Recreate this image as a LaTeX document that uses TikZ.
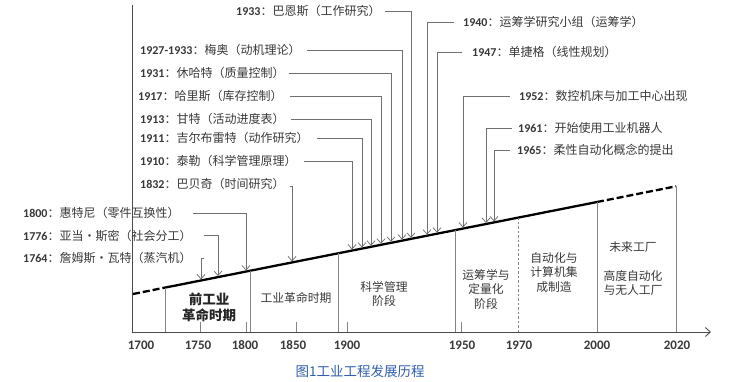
\documentclass[tikz,border=0pt]{standalone}
\usepackage{fontspec}
\setmainfont{Noto Sans CJK SC}
\newfontfamily\numfont{Carlito}
\usetikzlibrary{arrows.meta}
\definecolor{txt}{HTML}{383838}
\definecolor{ln}{HTML}{707070}
\definecolor{axc}{HTML}{4A4A4A}
\definecolor{capc}{RGB}{46,94,172}
\newcommand\yr[1]{{\numfont\bfseries #1}}
\newcommand\tpt[2]{\coordinate (#1) at ({#2},{288-0.19816*(#2-163)});}
\begin{document}
\begin{tikzpicture}[x=1pt,y=-1pt,
  evt/.style={font=\fontsize{12}{13}\selectfont, text=txt, inner sep=0pt},
  evl/.style={evt, anchor=west},
  lead/.style={draw=ln, line width=0.75pt, shorten >=1pt,
    -{Straight Barb[length=4.5pt,width=8pt,line width=0.75pt]}},
  stagetxt/.style={font=\fontsize{11.8}{14.5}\selectfont, text=txt, align=center, inner sep=0pt},
  stageline/.style={draw=ln!85, line width=0.8pt},
  ticklab/.style={font=\fontsize{13}{13}\selectfont\numfont\bfseries, text=txt, inner sep=0pt},
  trend/.style={line width=2.3pt, black},
  trenddash/.style={trend, dash pattern=on 7pt off 3pt},
  axisline/.style={draw=axc, line width=0.9pt}]
\useasboundingbox (0,0) rectangle (744,381);

% axes
\coordinate (O) at (132,332);
\coordinate (Ytop) at (132,5);
\coordinate (Xend) at (711,332);
\draw[axisline] (Ytop) -- (O);
\draw[axisline, -{Straight Barb[length=5pt,width=9pt,line width=0.9pt]}] (O) -- (Xend);

% trend line
\coordinate (L0) at (133,294);
\coordinate (L1) at (163,288);
\coordinate (L2) at (597,202);
\coordinate (L3) at (676,186.3);
\draw[trenddash] (L0) -- (L1);
\draw[trend] (L1) -- (L2);
\draw[trenddash] (L2) -- (L3);

% stage boundary lines
\foreach \x in {165,250,338,455,597,676}{
  \draw[stageline] (\x,332) -- ({\x},{288-0.19816*(\x-163)});
}
\draw[stageline, dash pattern=on 2.5pt off 2pt] (518,332) -- ({518},{288-0.19816*(518-163)});

% small ticks
\foreach \x in {200,246,296,347,461}{
  \draw[stageline] (\x,332) -- (\x,322);
}

% tick labels
\node[ticklab] (y1700) at (141,345) {1700};
\node[ticklab] (y1750) at (198,345) {1750};
\node[ticklab] (y1800) at (245,345) {1800};
\node[ticklab] (y1850) at (293,345) {1850};
\node[ticklab] (y1900) at (347,345) {1900};
\node[ticklab] (y1950) at (462,345) {1950};
\node[ticklab] (y1970) at (519,345) {1970};
\node[ticklab] (y2000) at (597,345) {2000};
\node[ticklab] (y2020) at (677,345) {2020};

% stage labels
\node[stagetxt, font=\fontsize{13.5}{16}\selectfont\bfseries, text=black!85] (s1) at (209,307) {前工业\\革命时期};
\node[stagetxt] (s2) at (296,298) {工业革命时期};
\node[stagetxt] (s3) at (384,294) {科学管理\\阶段};
\node[stagetxt] (s4) at (486,289) {运筹学与\\定量化\\阶段};
\node[stagetxt] (s5) at (554,272.5) {自动化与\\计算机集\\成制造};
\node[stagetxt] (s6) at (633,247) {未来工厂};
\node[stagetxt] (s7) at (633,283) {高度自动化\\与无人工厂};

% trend points
\tpt{t1764}{201}
\tpt{t1776}{218}
\tpt{t1800}{246}
\tpt{t1832}{292}
\tpt{t1910}{352}
\tpt{t1911}{362}
\tpt{t1913}{371}
\tpt{t1917}{381}
\tpt{t1931}{391}
\tpt{t1927}{402}
\tpt{t1933}{411}
\tpt{t1940}{427}
\tpt{t1947}{437}
\tpt{t1952}{463}
\tpt{t1961}{486}
\tpt{t1965}{494}

% left-side events
\node[evl] (e1800) at (23,213) {\yr{1800}：惠特尼（零件互换性）};
\node[evl] (e1776) at (23,235.5) {\yr{1776}：亚当•斯密（社会分工）};
\node[evl] (e1764) at (23,258) {\yr{1764}：詹姆斯•瓦特（蒸汽机）};
\node[evl] (e1933) at (236,11) {\yr{1933}：巴恩斯（工作研究）};
\node[evl] (e1927) at (140,50) {\yr{1927-1933}：梅奥（动机理论）};
\node[evl] (e1931) at (140,73) {\yr{1931}：休哈特（质量控制）};
\node[evl] (e1917) at (138,96) {\yr{1917}：哈里斯（库存控制）};
\node[evl] (e1913) at (140,119) {\yr{1913}：甘特（活动进度表）};
\node[evl] (e1911) at (140,138) {\yr{1911}：吉尔布雷特（动作研究）};
\node[evl] (e1910) at (140,161) {\yr{1910}：泰勒（科学管理原理）};
\node[evl] (e1832) at (140,184) {\yr{1832}：巴贝奇（时间研究）};

\draw[lead] ([xshift=13pt]e1800.east) -| (t1800);
\draw[lead] ([xshift=12pt]e1776.east) -| (t1776);
\draw[lead] ([xshift=12pt]e1764.east) -| (t1764);
\draw[lead] ([xshift=4pt]e1933.east) -| (t1933);
\draw[lead] ([xshift=6pt]e1927.east) -| (t1927);
\draw[lead] ([xshift=4pt]e1931.east) -| (t1931);
\draw[lead] ([xshift=7pt]e1917.east) -| (t1917);
\draw[lead] ([xshift=6pt]e1913.east) -| (t1913);
\draw[lead] ([xshift=8pt]e1911.east) -| (t1911);
\draw[lead] ([xshift=7pt]e1910.east) -| (t1910);
\draw[lead] ([xshift=5pt,yshift=-2pt]e1832.east) -| (t1832);

% right-side events
\node[evl] (e1940) at (463,22) {\yr{1940}：运筹学研究小组（运筹学）};
\node[evl] (e1947) at (472,52) {\yr{1947}：单捷格（线性规划）};
\node[evl] (e1952) at (519,96) {\yr{1952}：数控机床与加工中心出现};
\node[evl] (e1961) at (518,128) {\yr{1961}：开始使用工业机器人};
\node[evl] (e1965) at (517,150) {\yr{1965}：柔性自动化概念的提出};

\draw[lead] ([xshift=-9pt]e1940.west) -| (t1940);
\draw[lead] ([xshift=-10pt]e1947.west) -| (t1947);
\draw[lead] ([xshift=-9pt]e1952.west) -| (t1952);
\draw[lead] ([xshift=-6pt]e1961.west) -| (t1961);
\draw[lead] ([xshift=-7pt]e1965.west) -| (t1965);

% caption
\node[font=\fontsize{13.5}{13.5}\selectfont, text=capc, inner sep=0pt] (cap) at (360,371) {图1工业工程发展历程};
\end{tikzpicture}
\end{document}
